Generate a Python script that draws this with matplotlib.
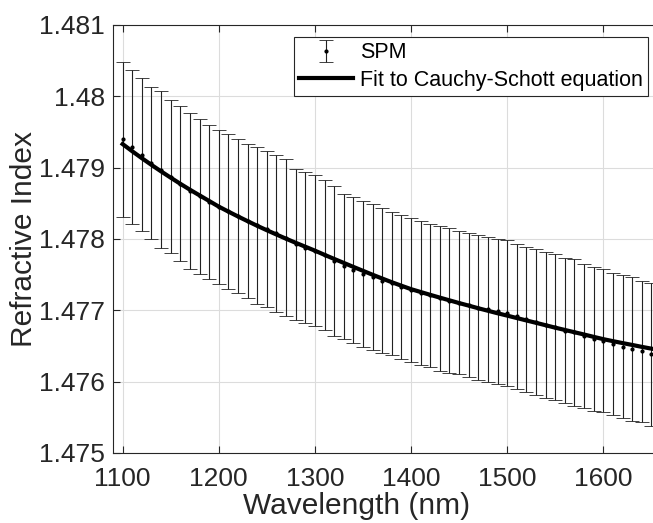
import matplotlib
matplotlib.use('Agg')
import matplotlib.pyplot as plt
from matplotlib.ticker import FixedLocator, FixedFormatter

plt.rcParams['font.family'] = ['Liberation Sans', 'DejaVu Sans']

wavelength = list(range(1100, 1651, 10))

spm = [1.479397, 1.479290, 1.479182, 1.479065, 1.478973, 1.478872, 1.478777, 1.478672,
       1.478597, 1.478520, 1.478453, 1.478387, 1.478321, 1.478254, 1.478192, 1.478139,
       1.478080, 1.478021, 1.477923, 1.477878, 1.477836, 1.477774, 1.477696, 1.477617,
       1.477561, 1.477515, 1.477466, 1.477417, 1.477377, 1.477328, 1.477282, 1.477244,
       1.477209, 1.477166, 1.477135, 1.477108, 1.477074, 1.477038, 1.477013, 1.476987,
       1.476962, 1.476919, 1.476874, 1.476835, 1.476797, 1.476762, 1.476715, 1.476690,
       1.476634, 1.476599, 1.476574, 1.476523, 1.476490, 1.476454, 1.476424, 1.476383]

spm_err = [0.001084, 0.001073, 0.001073, 0.001069, 0.001097, 0.001073, 0.001083, 0.001094,
           0.001087, 0.001080, 0.001077, 0.001083, 0.001077, 0.001084, 0.001104, 0.001097,
           0.001097, 0.001097, 0.001056, 0.001056, 0.001062, 0.001056, 0.001049, 0.001020,
           0.001024, 0.001024, 0.001021, 0.001021, 0.001003, 0.001014, 0.001010, 0.001013,
           0.001007, 0.001013, 0.001014, 0.001007, 0.001013, 0.001013, 0.001017, 0.001017,
           0.001017, 0.001017, 0.001017, 0.001020, 0.001021, 0.001024, 0.001021, 0.001027,
           0.001010, 0.001007, 0.001000, 0.000996, 0.000999, 0.001010, 0.000993, 0.001006]

fit = [1.479331, 1.479230, 1.479133, 1.479039, 1.478948, 1.478860, 1.478774, 1.478691,
       1.478612, 1.478533, 1.478454, 1.478384, 1.478316, 1.478250, 1.478185, 1.478123,
       1.478063, 1.478004, 1.477947, 1.477892, 1.477837, 1.477778, 1.477721, 1.477665,
       1.477609, 1.477554, 1.477499, 1.477446, 1.477394, 1.477345, 1.477297, 1.477257,
       1.477217, 1.477178, 1.477140, 1.477102, 1.477066, 1.477029, 1.476994, 1.476959,
       1.476926, 1.476892, 1.476858, 1.476825, 1.476791, 1.476757, 1.476725, 1.476693,
       1.476661, 1.476628, 1.476596, 1.476568, 1.476541, 1.476515, 1.476488, 1.476463]

yticks = [1.475, 1.476, 1.477, 1.478, 1.479, 1.48, 1.481]
ytick_labels = ['1.475', '1.476', '1.477', '1.478', '1.479', '1.48', '1.481']
xticks = [1100, 1200, 1300, 1400, 1500, 1600]

ink = '#262626'

fig = plt.figure(figsize=(6.53, 5.23), dpi=100)
ax = fig.add_axes([113 / 653, 70 / 523, 548 / 653, 428 / 523])

eb = ax.errorbar(wavelength, spm, yerr=spm_err, fmt='.', color='black', markersize=4,
                 ecolor='#222222', elinewidth=0.8, capsize=5, capthick=0.6, zorder=3)
ln, = ax.plot(wavelength, fit, color='black', linewidth=3, zorder=4)

ax.set_xlim(1090, 1660)
ax.set_ylim(1.475, 1.481)
ax.xaxis.set_major_locator(FixedLocator(xticks))
ax.yaxis.set_major_locator(FixedLocator(yticks))
ax.yaxis.set_major_formatter(FixedFormatter(ytick_labels))

ax.grid(True, color='#dcdcdc', linewidth=0.8)
ax.set_axisbelow(True)
ax.tick_params(direction='in', length=5, width=0.8, colors=ink, labelsize=19,
               top=True, right=True)
ax.tick_params(axis='x', pad=10)
ax.tick_params(axis='y', pad=6)
for s in ax.spines.values():
    s.set_color(ink)
    s.set_linewidth(0.8)

ax.set_xlabel('Wavelength (nm)', fontsize=21.5, color=ink)
ax.set_ylabel('Refractive Index', fontsize=21.5, color=ink)
ax.xaxis.set_label_coords(0.445, -0.092)
ax.yaxis.set_label_coords(-0.136, 0.5)

leg = ax.legend([eb, ln], ['SPM', 'Fit to Cauchy-Schott equation'],
                loc='upper right', bbox_to_anchor=(648 / 653, 1 - 37 / 523),
                bbox_transform=fig.transFigure, borderaxespad=0, fontsize=15.5,
                fancybox=False, framealpha=1, edgecolor=ink, handlelength=2.5,
                labelspacing=0.3, borderpad=0.25, handletextpad=0.3)
leg.get_frame().set_linewidth(0.8)

fig.savefig('out.png', dpi=100)
